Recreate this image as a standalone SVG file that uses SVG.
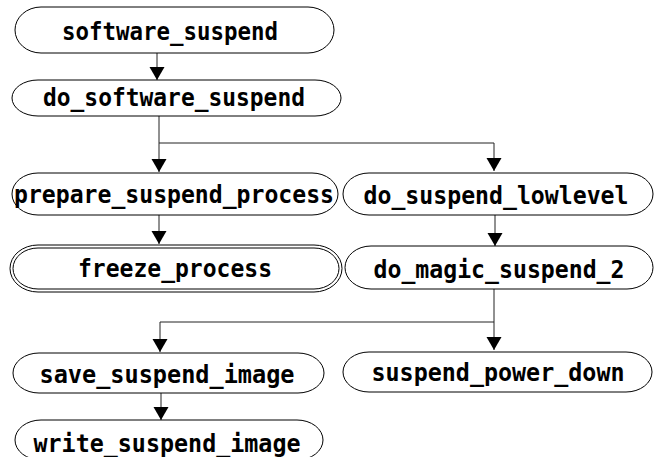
<svg xmlns="http://www.w3.org/2000/svg" width="658" height="457" viewBox="0 0 658 457">
<defs>
<style>
.n{fill:#fff;stroke:#000;stroke-width:1}
.t{font-family:"DejaVu Sans Mono","Liberation Mono",monospace;font-size:25px;font-weight:bold;fill:#000;text-anchor:middle}
.c{fill:none;stroke:#222;stroke-width:1}
</style>
<marker id="ah" markerUnits="userSpaceOnUse" markerWidth="16" markerHeight="16" refX="13" refY="7.5" orient="auto">
<path d="M0,0 L13,7.5 L0,15 Z" fill="#000"/>
</marker>
</defs>
<rect width="658" height="457" fill="#fff"/>
<g id="connectors">
<path class="c" d="M157,53 V80" marker-end="url(#ah)"/>
<path class="c" d="M159,116 V143 H494 V171" marker-end="url(#ah)"/>
<path class="c" d="M159,143 V172" marker-end="url(#ah)"/>
<path class="c" d="M159,215 V244" marker-end="url(#ah)"/>
<path class="c" d="M495,215 V246" marker-end="url(#ah)"/>
<path class="c" d="M494,289 V350" marker-end="url(#ah)"/>
<path class="c" d="M494,322 H160 V352" marker-end="url(#ah)"/>
<path class="c" d="M161,393 V420" marker-end="url(#ah)"/>
</g>
<g id="software_suspend"><rect class="n" x="15" y="7" width="319" height="46" rx="26" ry="23"/><text class="t" x="170" y="40" textLength="216" lengthAdjust="spacingAndGlyphs">software_suspend</text></g>
<g id="do_software_suspend"><rect class="n" x="12" y="80" width="329" height="36" rx="26" ry="18"/><text class="t" x="174" y="106" textLength="262" lengthAdjust="spacingAndGlyphs">do_software_suspend</text></g>
<g id="prepare_suspend_process"><rect class="n" x="12" y="173" width="326" height="42" rx="26" ry="21"/><text class="t" x="174" y="203" textLength="320" lengthAdjust="spacingAndGlyphs">prepare_suspend_process</text></g>
<g id="do_suspend_lowlevel"><rect class="n" x="343" y="173" width="310" height="42" rx="26" ry="21"/><text class="t" x="496" y="204" textLength="265" lengthAdjust="spacingAndGlyphs">do_suspend_lowlevel</text></g>
<g id="freeze_process"><rect class="n" x="10" y="245" width="332" height="47" rx="28" ry="23.5"/><rect class="n" x="13" y="248" width="326" height="41" rx="25" ry="20.5"/><text class="t" x="175" y="277" textLength="194" lengthAdjust="spacingAndGlyphs">freeze_process</text></g>
<g id="do_magic_suspend_2"><rect class="n" x="345" y="246" width="308" height="43" rx="26" ry="21.5"/><text class="t" x="499" y="278" textLength="251" lengthAdjust="spacingAndGlyphs">do_magic_suspend_2</text></g>
<g id="save_suspend_image"><rect class="n" x="13" y="353" width="311" height="40" rx="26" ry="20"/><text class="t" x="167" y="383" textLength="255" lengthAdjust="spacingAndGlyphs">save_suspend_image</text></g>
<g id="suspend_power_down"><rect class="n" x="343" y="352" width="309" height="40" rx="26" ry="20"/><text class="t" x="498" y="381" textLength="253" lengthAdjust="spacingAndGlyphs">suspend_power_down</text></g>
<g id="write_suspend_image"><rect class="n" x="15" y="420" width="308" height="40" rx="26" ry="20"/><text class="t" x="167" y="452" textLength="267" lengthAdjust="spacingAndGlyphs">write_suspend_image</text></g>
</svg>
